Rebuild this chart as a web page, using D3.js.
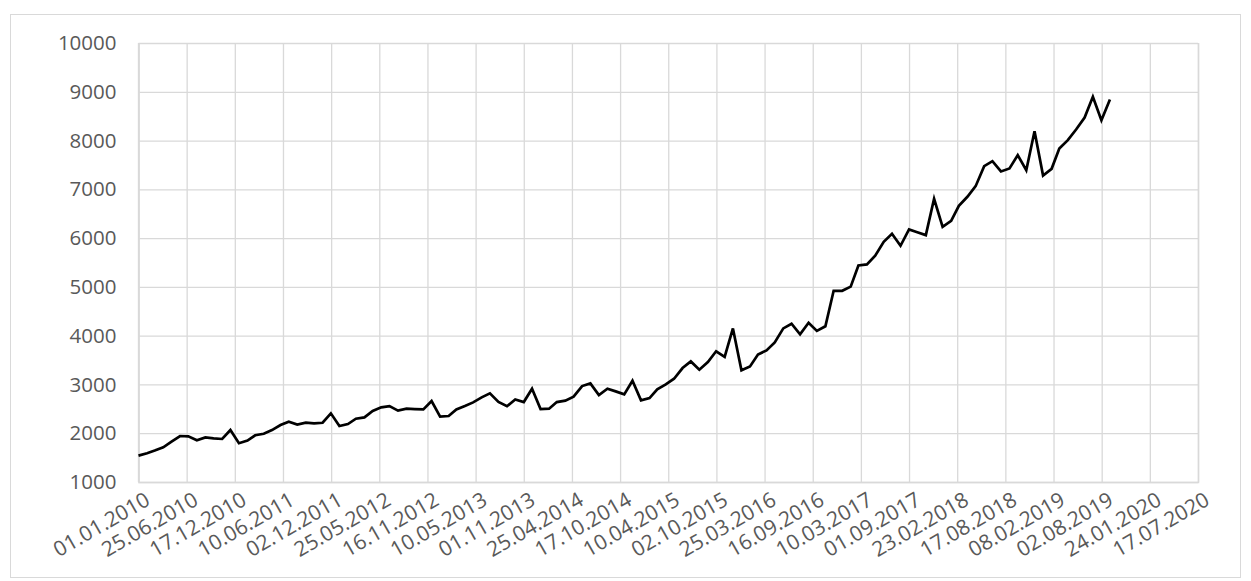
<!DOCTYPE html>
<html><head><meta charset="utf-8">
<script src="https://cdn.jsdelivr.net/npm/d3@7"></script>
<style>html,body{margin:0;padding:0;background:#fff;}svg{display:block;}</style>
</head><body>
<svg id="chart" width="1251" height="581"></svg>
<script>
const months = ["2010-01","2010-02","2010-03","2010-04","2010-05","2010-06","2010-07","2010-08","2010-09","2010-10","2010-11","2010-12",
"2011-01","2011-02","2011-03","2011-04","2011-05","2011-06","2011-07","2011-08","2011-09","2011-10","2011-11","2011-12",
"2012-01","2012-02","2012-03","2012-04","2012-05","2012-06","2012-07","2012-08","2012-09","2012-10","2012-11","2012-12",
"2013-01","2013-02","2013-03","2013-04","2013-05","2013-06","2013-07","2013-08","2013-09","2013-10","2013-11","2013-12",
"2014-01","2014-02","2014-03","2014-04","2014-05","2014-06","2014-07","2014-08","2014-09","2014-10","2014-11","2014-12",
"2015-01","2015-02","2015-03","2015-04","2015-05","2015-06","2015-07","2015-08","2015-09","2015-10","2015-11","2015-12",
"2016-01","2016-02","2016-03","2016-04","2016-05","2016-06","2016-07","2016-08","2016-09","2016-10","2016-11","2016-12",
"2017-01","2017-02","2017-03","2017-04","2017-05","2017-06","2017-07","2017-08","2017-09","2017-10","2017-11","2017-12",
"2018-01","2018-02","2018-03","2018-04","2018-05","2018-06","2018-07","2018-08","2018-09","2018-10","2018-11","2018-12",
"2019-01","2019-02","2019-03","2019-04","2019-05","2019-06","2019-07","2019-08","2019-09"];
const values = [1540,1590,1645,1712,1826,1943,1936,1856,1915,1895,1882,2066,
1795,1848,1958,1990,2065,2168,2236,2176,2215,2202,2215,2407,
2147,2188,2298,2325,2455,2530,2557,2462,2503,2496,2489,2660,
2339,2352,2489,2557,2632,2735,2817,2640,2553,2690,2639,2912,
2496,2503,2639,2667,2749,2967,3022,2783,2912,2858,2796,3076,
2673,2721,2899,3001,3117,3336,3472,3302,3459,3680,3565,4149,
3290,3370,3612,3698,3862,4149,4244,4026,4265,4098,4193,4920,
4920,5005,5440,5460,5640,5925,6088,5843,6177,6122,6061,6806,
6232,6355,6662,6847,7065,7475,7577,7366,7427,7700,7393,8192,
7284,7420,7837,8008,8226,8472,8896,8418,8841];
const xTickLabels = ["01.01.2010","25.06.2010","17.12.2010","10.06.2011","02.12.2011","25.05.2012","16.11.2012","10.05.2013","01.11.2013","25.04.2014","17.10.2014","10.04.2015","02.10.2015","25.03.2016","16.09.2016","10.03.2017","01.09.2017","23.02.2018","17.08.2018","08.02.2019","02.08.2019","24.01.2020","17.07.2020"];
const yTicks = [1000,2000,3000,4000,5000,6000,7000,8000,9000,10000];

const parseMonth = d3.utcParse("%Y-%m");
const parseTick = d3.utcParse("%d.%m.%Y");
const data = months.map((m,i)=>({date:parseMonth(m), value:values[i]}));
const tickDates = xTickLabels.map(parseTick);

const L = 138.5, R = 1198, T = 43, B = 482;
const svg = d3.select("#chart");
svg.append("rect").attr("x",10.5).attr("y",14.5).attr("width",1230).attr("height",563)
  .attr("fill","#fff").attr("stroke","#d9d9d9").attr("stroke-width",1);

const x = d3.scaleUtc().domain([tickDates[0], tickDates[tickDates.length-1]]).range([L,R]);
const y = d3.scaleLinear().domain([1000,10000]).range([B,T]);

const fontFam = "'Open Sans', 'Liberation Sans', sans-serif";

const yAxis = d3.axisLeft(y).tickValues(yTicks).tickSize(-(R-L)).tickPadding(22).tickFormat(d3.format("d"));
const gy = svg.append("g").attr("transform",`translate(${L},0)`).call(yAxis);
gy.select(".domain").remove();
gy.selectAll(".tick line").attr("stroke","#d9d9d9").attr("stroke-width",1.3);
gy.selectAll(".tick text").attr("fill","#595959").style("font-family",fontFam).style("font-size","20.5px");

const xAxis = d3.axisBottom(x).tickValues(tickDates).tickSize(-(B-T)).tickPadding(0)
  .tickFormat((d,i)=>xTickLabels[i]);
const gx = svg.append("g").attr("transform",`translate(0,${B})`).call(xAxis);
gx.select(".domain").attr("stroke","#d9d9d9").attr("stroke-width",1.5);
gx.selectAll(".tick line").attr("stroke","#d9d9d9").attr("stroke-width",1.3);
gx.selectAll(".tick text")
  .attr("fill","#595959").style("font-family",fontFam).style("font-size","21px")
  .attr("text-anchor","end").attr("dy",null).attr("y",0)
  .attr("transform","translate(5,9) rotate(-30) translate(0,15)");

svg.append("line").attr("x1",L).attr("x2",L).attr("y1",T).attr("y2",B).attr("stroke","#d9d9d9").attr("stroke-width",1.3);

const line = d3.line().x(d=>x(d.date)).y(d=>y(d.value));
svg.append("path").datum(data).attr("d",line).attr("fill","none")
  .attr("stroke","#000").attr("stroke-width",2.7).attr("stroke-linejoin","miter");
</script>
</body></html>
